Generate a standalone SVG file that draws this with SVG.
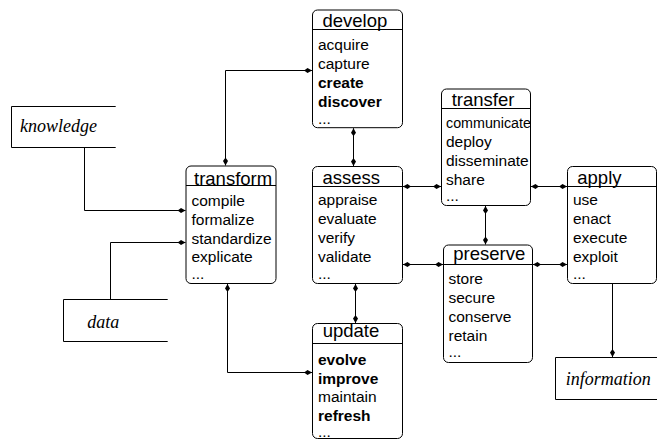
<svg xmlns="http://www.w3.org/2000/svg" width="657" height="439" viewBox="0 0 657 439">
<style>
.box{fill:#fff;stroke:#000;stroke-width:1}
.hdr{stroke:#000;stroke-width:1}
.title{font-family:"Liberation Sans",Arial,sans-serif;font-size:18.5px;fill:#000}
.item{font-family:"Liberation Sans",Arial,sans-serif;font-size:15.5px;fill:#000}
.b{font-weight:bold}
.src{fill:none;stroke:#000;stroke-width:1}
.lbl{font-family:"Liberation Serif","Times New Roman",serif;font-style:italic;font-size:18px;fill:#000}
.con{fill:none;stroke:#000;stroke-width:1}
</style>
<defs>
<marker id="ah" viewBox="0 -3 8 6" refX="8" refY="0" markerWidth="8" markerHeight="6" markerUnits="userSpaceOnUse" orient="auto-start-reverse">
<path d="M0,0 L3.5,-2.5 L8,0 L3.5,2.5 z" fill="#000"/>
</marker>
</defs>
<rect width="657" height="439" fill="#fff"/>

<g id="knowledge">
<path class="src" d="M115.7,106.5 H11.5 V147.5 H115.7"/>
<text class="lbl" x="20" y="131.7">knowledge</text>
</g>
<g id="data">
<path class="src" d="M167.7,299.5 H63.5 V341.5 H167.7"/>
<text class="lbl" x="87.3" y="327.7">data</text>
</g>
<g id="information">
<path class="src" d="M660,357.5 H555.5 V399.5 H660"/>
<text class="lbl" x="565.7" y="385">information</text>
</g>

<g id="develop">
<rect class="box" x="312.5" y="10" width="90" height="117.7" rx="5"/>
<line class="hdr" x1="312.5" y1="29.5" x2="402.5" y2="29.5"/>
<text class="title" x="322.5" y="26.7">develop</text>
<text class="item" x="318" y="50">acquire</text>
<text class="item" x="318" y="69">capture</text>
<text class="item b" x="318" y="88">create</text>
<text class="item b" x="318" y="106.5">discover</text>
<text class="item" x="318" y="123.5">...</text>
</g>

<g id="transfer">
<rect class="box" x="441.5" y="89" width="89" height="116.5" rx="5"/>
<line class="hdr" x1="441.5" y1="108.5" x2="530.5" y2="108.5"/>
<text class="title" x="451.7" y="106">transfer</text>
<text class="item" x="446" y="128.3" textLength="85" lengthAdjust="spacingAndGlyphs">communicate</text>
<text class="item" x="446" y="147">deploy</text>
<text class="item" x="446" y="166">disseminate</text>
<text class="item" x="446" y="185">share</text>
<text class="item" x="446" y="201">...</text>
</g>

<g id="assess">
<rect class="box" x="312.5" y="166.5" width="90" height="117" rx="5"/>
<line class="hdr" x1="312.5" y1="186.5" x2="402.5" y2="186.5"/>
<text class="title" x="322.5" y="184.3">assess</text>
<text class="item" x="318" y="205">appraise</text>
<text class="item" x="318" y="224">evaluate</text>
<text class="item" x="318" y="243">verify</text>
<text class="item" x="318" y="262">validate</text>
<text class="item" x="318" y="279">...</text>
</g>

<g id="transform">
<rect class="box" x="186" y="166" width="90" height="117.5" rx="5"/>
<line class="hdr" x1="186" y1="185.5" x2="276" y2="185.5"/>
<text class="title" x="194" y="185">transform</text>
<text class="item" x="191.5" y="205.7">compile</text>
<text class="item" x="191.5" y="224.5">formalize</text>
<text class="item" x="191.5" y="243.5">standardize</text>
<text class="item" x="191.5" y="262">explicate</text>
<text class="item" x="191.5" y="279">...</text>
</g>

<g id="apply">
<rect class="box" x="567.5" y="166.5" width="89" height="117" rx="5"/>
<line class="hdr" x1="567.5" y1="186.5" x2="656.5" y2="186.5"/>
<text class="title" x="577.3" y="183.5">apply</text>
<text class="item" x="573" y="204.5">use</text>
<text class="item" x="573" y="224">enact</text>
<text class="item" x="573" y="243.3">execute</text>
<text class="item" x="573" y="262">exploit</text>
<text class="item" x="573" y="279">...</text>
</g>

<g id="preserve">
<rect class="box" x="443.5" y="245" width="89" height="117.5" rx="5"/>
<line class="hdr" x1="443.5" y1="264.5" x2="532.5" y2="264.5"/>
<text class="title" x="453.3" y="260">preserve</text>
<text class="item" x="448.5" y="283.5">store</text>
<text class="item" x="448.5" y="302.5">secure</text>
<text class="item" x="448.5" y="321.5">conserve</text>
<text class="item" x="448.5" y="340.5">retain</text>
<text class="item" x="448.5" y="357">...</text>
</g>

<g id="update">
<rect class="box" x="312.5" y="323.5" width="90" height="115" rx="5"/>
<line class="hdr" x1="312.5" y1="343.5" x2="402.5" y2="343.5"/>
<text class="title" x="322.7" y="336.5">update</text>
<text class="item b" x="318" y="364.7">evolve</text>
<text class="item b" x="318" y="383.7">improve</text>
<text class="item" x="318" y="402">maintain</text>
<text class="item b" x="318" y="420.5">refresh</text>
<text class="item" x="318" y="436.5">...</text>
</g>

<g id="connectors">
<path class="con" d="M84.5,147.5 V210.5 H185.5" marker-end="url(#ah)"/>
<path class="con" d="M110.5,299.5 V242.5 H185.5" marker-end="url(#ah)"/>
<path class="con" d="M225.5,165.5 V70.5 H312" marker-start="url(#ah)" marker-end="url(#ah)"/>
<path class="con" d="M227.5,284 V372.5 H312" marker-start="url(#ah)" marker-end="url(#ah)"/>
<path class="con" d="M353.5,128.2 V166" marker-start="url(#ah)" marker-end="url(#ah)"/>
<path class="con" d="M355.5,284 V323" marker-start="url(#ah)" marker-end="url(#ah)"/>
<path class="con" d="M403,186.5 H441" marker-start="url(#ah)" marker-end="url(#ah)"/>
<path class="con" d="M531,186.5 H567" marker-start="url(#ah)" marker-end="url(#ah)"/>
<path class="con" d="M485.5,206 V244.5" marker-start="url(#ah)" marker-end="url(#ah)"/>
<path class="con" d="M403,264.5 H443" marker-start="url(#ah)" marker-end="url(#ah)"/>
<path class="con" d="M533,264.5 H567" marker-start="url(#ah)" marker-end="url(#ah)"/>
<path class="con" d="M612.5,284 V357" marker-end="url(#ah)"/>
</g>
</svg>
